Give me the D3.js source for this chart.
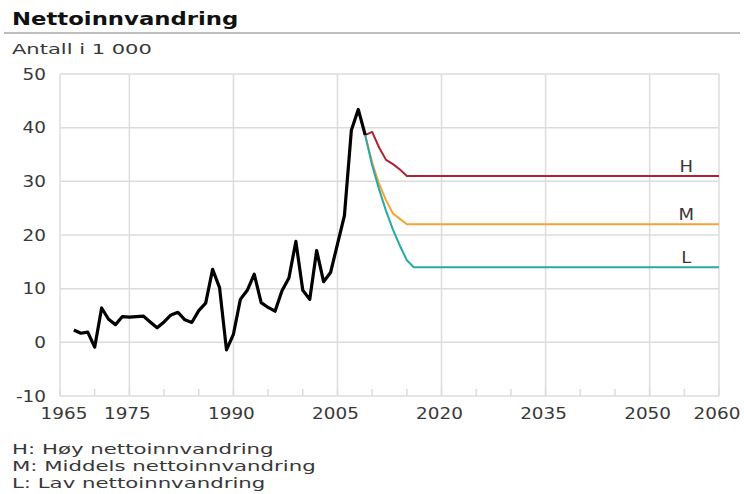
<!DOCTYPE html>
<html>
<head>
<meta charset="utf-8">
<script src="https://cdn.jsdelivr.net/npm/d3@7"></script>
<style>
  html, body { margin: 0; padding: 0; background: #fff; }
  svg text { font-family: "DejaVu Sans", sans-serif; }
</style>
</head>
<body>
<svg id="chart" width="744" height="494"></svg>
<script>
// ---- Data ----
const histYears = [1967,1968,1969,1970,1971,1972,1973,1974,1975,1976,1977,1978,1979,1980,1981,1982,1983,1984,1985,1986,1987,1988,1989,1990,1991,1992,1993,1994,1995,1996,1997,1998,1999,2000,2001,2002,2003,2004,2005,2006,2007,2008,2009];
const histValues = [2.3,1.7,1.9,-0.9,6.4,4.3,3.3,4.8,4.7,4.8,4.9,3.8,2.7,3.8,5.1,5.6,4.2,3.7,5.9,7.3,13.6,10.2,-1.4,1.5,8.0,9.7,12.7,7.4,6.5,5.8,9.6,12.0,18.8,9.7,8.0,17.1,11.3,13.0,18.3,23.6,39.5,43.4,38.6];

const highYears = [2009,2010,2011,2012,2013,2014,2015,2060];
const highValues = [38.6,39.2,36.3,34.0,33.2,32.2,31.0,31.0];
const midYears = [2009,2010,2011,2012,2013,2014,2015,2060];
const midValues = [38.6,33.5,29.5,26.5,24.0,23.0,22.0,22.0];
const lowYears = [2009,2010,2011,2012,2013,2014,2015,2016,2060];
const lowValues = [38.6,33.0,28.5,24.5,21.0,18.0,15.3,14.0,14.0];

const seriesNames = ["H", "M", "L"];
const seriesColors = ["#ad2333", "#f5a333", "#2aa8a6"];

const xMajorTicks = [1965,1975,1990,2005,2020,2035,2050,2060];
const xMinorTicks = d3.range(1965, 2061, 5);
const yTicks = [-10,0,10,20,30,40,50];

const titleText = "Nettoinnvandring";
const unitText = "Antall i 1 000";
const notes = ["H: Høy nettoinnvandring", "M: Middels nettoinnvandring", "L: Lav nettoinnvandring"];

// ---- Layout ----
const svg = d3.select("#chart");
const plot = { left: 60, right: 719, top: 74, bottom: 396 };
const x = d3.scaleLinear().domain([1965, 2060]).range([plot.left, plot.right]);
const y = d3.scaleLinear().domain([-10, 50]).range([plot.bottom, plot.top]);

const gridColor = "#dcdcdc";
const textColor = "#383838";

function stretchedText(g, tx, ty, txt, opts) {
  return g.append("text")
    .attr("transform", `translate(${tx},${ty}) scale(${opts.sx || 1},1)`)
    .attr("text-anchor", opts.anchor || "start")
    .attr("font-size", opts.size)
    .attr("font-weight", opts.weight || "normal")
    .attr("fill", opts.color || textColor)
    .text(txt);
}

// Title
stretchedText(svg, 12, 25, titleText, { size: 17, weight: "bold", sx: 1.34, color: "#111" });
svg.append("line").attr("x1", 4).attr("x2", 740).attr("y1", 33).attr("y2", 33)
  .attr("stroke", "#a8a8a8").attr("stroke-width", 1.5);
stretchedText(svg, 12, 54, unitText, { size: 14.5, sx: 1.45 });

// Grid
const grid = svg.append("g");
grid.selectAll(".hg").data(yTicks).join("line")
  .attr("x1", plot.left).attr("x2", plot.right)
  .attr("y1", d => y(d)).attr("y2", d => y(d))
  .attr("stroke", gridColor).attr("stroke-width", 1.5);
grid.selectAll(".vg").data(xMajorTicks).join("line")
  .attr("x1", d => x(d)).attr("x2", d => x(d))
  .attr("y1", plot.top).attr("y2", plot.bottom)
  .attr("stroke", gridColor).attr("stroke-width", 1.5);
grid.selectAll(".mt").data(xMinorTicks).join("line")
  .attr("x1", d => x(d)).attr("x2", d => x(d))
  .attr("y1", plot.bottom).attr("y2", plot.bottom - 7)
  .attr("stroke", gridColor).attr("stroke-width", 1.5);

// Axis labels
const yl = svg.append("g");
yTicks.forEach(v => stretchedText(yl, 46, y(v) + 5.5, String(v), { size: 16, sx: 1.15, anchor: "end" }));
const xl = svg.append("g");
xMajorTicks.forEach(v => stretchedText(xl, x(v) + (v === 1965 ? 4 : -2), 419, String(v), { size: 16, sx: 1.15, anchor: "middle" }));

// Lines
const line = d3.line().x(d => x(d[0])).y(d => y(d[1]));
const proj = [
  d3.zip(highYears, highValues),
  d3.zip(midYears, midValues),
  d3.zip(lowYears, lowValues)
];
proj.forEach((pts, i) => {
  svg.append("path").datum(pts).attr("d", line)
    .attr("fill", "none").attr("stroke", seriesColors[i])
    .attr("stroke-width", 2).attr("stroke-linejoin", "round");
  const last = pts[pts.length - 1];
  stretchedText(svg, x(2055) + 2, y(last[1]) - 4, seriesNames[i], { size: 15, sx: 1.2, anchor: "middle" });
});
svg.append("path").datum(d3.zip(histYears, histValues)).attr("d", line)
  .attr("fill", "none").attr("stroke", "#000")
  .attr("stroke-width", 3.2).attr("stroke-linejoin", "round");

// Notes
notes.forEach((n, i) => stretchedText(svg, 12, 454 + i * 17, n, { size: 14, sx: 1.52 }));
</script>
</body>
</html>
